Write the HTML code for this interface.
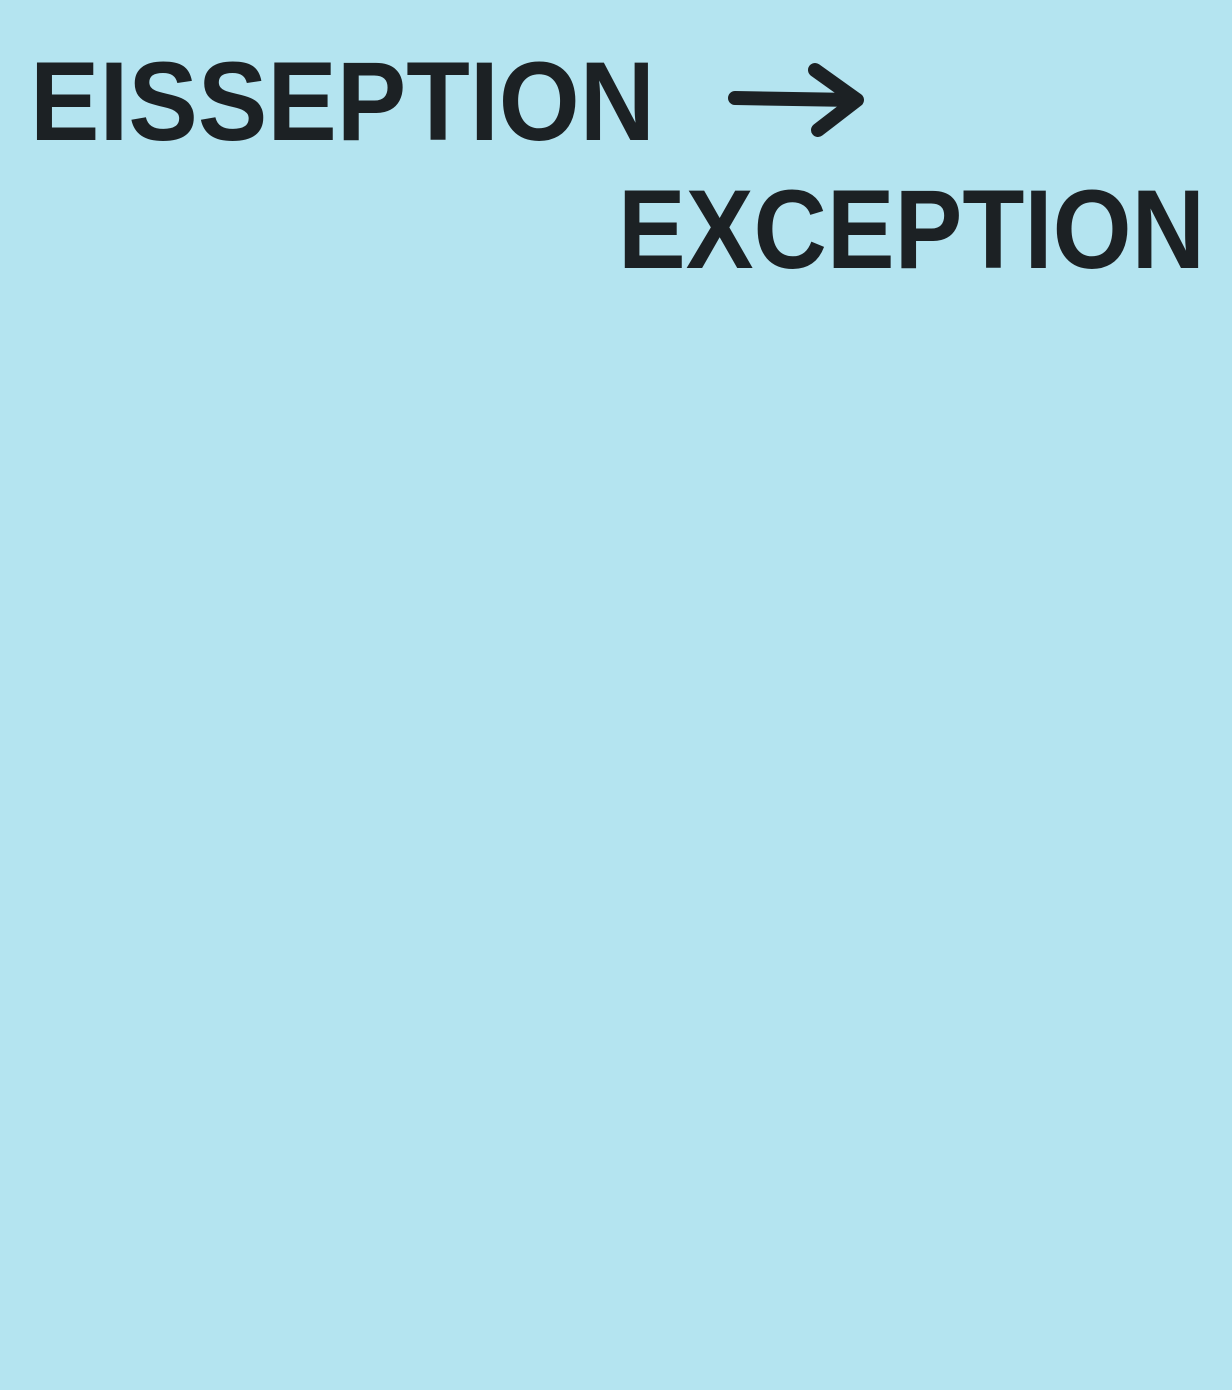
<!DOCTYPE html>
<html>
<head>
<meta charset="utf-8">
<style>
  html, body { margin:0; padding:0; width:1232px; height:1390px; background:#b4e4f0; overflow:hidden; }
  svg { display:block; }
  text { font-family: "Liberation Sans", sans-serif; font-weight:bold; fill:#1c2124; }
</style>
</head>
<body>
<svg width="1232" height="1390" viewBox="0 0 1232 1390">
  <rect x="0" y="0" width="1232" height="1390" fill="#b4e4f0"/>
  <text x="30" y="140" font-size="112" textLength="625" lengthAdjust="spacingAndGlyphs">EISSEPTION</text>
  <g stroke="#1c2124" stroke-width="14" stroke-linecap="round" stroke-linejoin="round" fill="none">
    <path d="M735 98 L855 100"/>
    <path d="M815 70 L857 100 L818 130"/>
  </g>
  <text x="618" y="268" font-size="112" textLength="587" lengthAdjust="spacingAndGlyphs">EXCEPTION</text>
</svg>
</body>
</html>
